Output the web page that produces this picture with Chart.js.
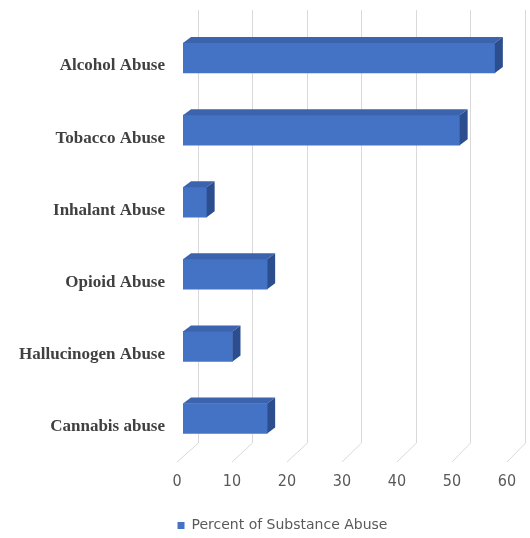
<!DOCTYPE html>
<html>
<head>
<meta charset="utf-8">
<script src="https://cdn.jsdelivr.net/npm/chart.js@4/dist/chart.umd.min.js"></script>
<style>
html,body{margin:0;padding:0;background:#fff;}
#wrap{width:530px;height:538px;position:relative;}
</style>
</head>
<body>
<div id="wrap"><canvas id="c"></canvas></div>
<script>
const categories = ['Alcohol Abuse', 'Tobacco Abuse', 'Inhalant Abuse', 'Opioid Abuse', 'Hallucinogen Abuse', 'Cannabis abuse'];
const values = [56.7, 50.3, 4.3, 15.3, 9, 15.3];
const seriesName = 'Percent of Substance Abuse';
const xTicks = [0, 10, 20, 30, 40, 50, 60];

const DX = 8, DY = 6;

const gridPlugin = {
  id: 'grid3d',
  beforeDatasetsDraw(chart) {
    const ctx = chart.ctx;
    const xs = chart.scales.x;
    ctx.save();
    ctx.strokeStyle = '#d9d9d9';
    ctx.lineWidth = 1;
    xTicks.forEach(v => {
      const p = xs.getPixelForValue(v);
      const backX = Math.round(p + 14.5 - v * 0.05) + 0.5;
      const frontX = p - 6;
      ctx.beginPath();
      ctx.moveTo(backX, 10);
      ctx.lineTo(backX, 443);
      ctx.lineTo(frontX, 462);
      ctx.stroke();
    });
    ctx.restore();
  }
};

const bar3dPlugin = {
  id: 'bar3d',
  afterDatasetsDraw(chart) {
    const ctx = chart.ctx;
    const meta = chart.getDatasetMeta(0);
    ctx.save();
    meta.data.forEach(el => {
      const {x, y, base, height} = el.getProps(['x', 'y', 'base', 'height'], true);
      const top = y - height / 2, bot = y + height / 2;
      ctx.fillStyle = '#3b63ae';
      ctx.beginPath();
      ctx.moveTo(base, top);
      ctx.lineTo(x, top);
      ctx.lineTo(x + DX, top - DY);
      ctx.lineTo(base + DX, top - DY);
      ctx.closePath();
      ctx.fill();
      ctx.fillStyle = '#2c4e8e';
      ctx.beginPath();
      ctx.moveTo(x, top);
      ctx.lineTo(x + DX, top - DY);
      ctx.lineTo(x + DX, bot - DY);
      ctx.lineTo(x, bot);
      ctx.closePath();
      ctx.fill();
    });
    ctx.restore();
  }
};

// center the legend under the plotted block and nudge it down
const legendShift = {
  id: 'legendShift',
  afterLayout(chart) {
    const lg = chart.legend;
    if (lg) { lg.left = 52; lg.top += 4.5; lg.bottom += 4.5; }
  }
};

new Chart(document.getElementById('c'), {
  type: 'bar',
  data: {
    labels: categories,
    datasets: [{
      label: seriesName,
      data: values,
      backgroundColor: '#4472c4',
      borderWidth: 0,
      barThickness: 30
    }]
  },
  options: {
    indexAxis: 'y',
    responsive: true,
    maintainAspectRatio: false,
    animation: false,
    layout: { padding: { top: 22, right: 17, left: 0, bottom: 0 } },
    scales: {
      y: {
        grid: { display: false, drawTicks: false },
        border: { display: false },
        ticks: {
          color: '#404040',
          font: { family: '"Liberation Serif", "Times New Roman", serif', size: 17, weight: 'bold' },
          padding: 18,
          labelOffset: 8
        },
        afterFit(s) { s.width = 183; s.paddingTop = 0; s.paddingBottom = 0; }
      },
      x: {
        min: 0, max: 60,
        grid: { display: false, drawTicks: false },
        border: { display: false },
        ticks: {
          stepSize: 10,
          color: '#595959',
          font: { family: '"Liberation Sans Narrow", "DejaVu Sans Condensed", sans-serif', size: 16 },
          padding: 18,
          labelOffset: -6
        },
        afterFit(s) { s.height = 53.5; s.paddingLeft = 0; s.paddingRight = 0; }
      }
    },
    plugins: {
      legend: {
        position: 'bottom',
        labels: {
          color: '#595959',
          font: { family: '"DejaVu Sans", sans-serif', size: 14 },
          boxWidth: 7, boxHeight: 7,
          padding: 6
        }
      },
      tooltip: { enabled: false }
    }
  },
  plugins: [gridPlugin, bar3dPlugin, legendShift]
});
</script>
</body>
</html>
